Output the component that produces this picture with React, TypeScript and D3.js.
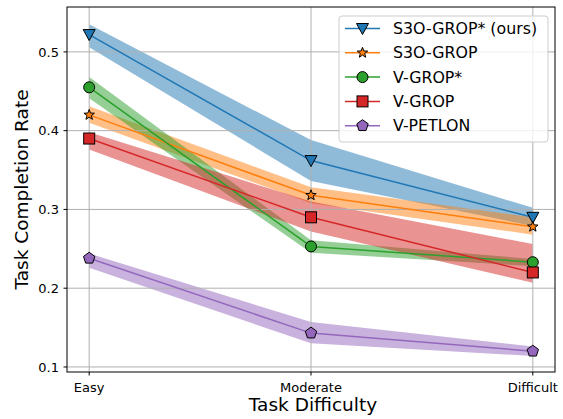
import React from "react";
import * as d3 from "d3";

const categories = ["Easy", "Moderate", "Difficult"];
const seriesNames = ["S3O-GROP* (ours)", "S3O-GROP", "V-GROP*", "V-GROP", "V-PETLON"];
const colors = ["#1f77b4", "#ff7f0e", "#2ca02c", "#d62728", "#9467bd"];
const markers = ["triangleDown", "star", "circle", "square", "pentagon"];

const meanS3OStar = [0.522, 0.362, 0.29];
const lowS3OStar = [0.506, 0.336, 0.279];
const highS3OStar = [0.535, 0.388, 0.302];

const meanS3O = [0.42, 0.318, 0.278];
const lowS3O = [0.41, 0.308, 0.268];
const highS3O = [0.431, 0.328, 0.29];

const meanVStar = [0.455, 0.253, 0.233];
const lowVStar = [0.441, 0.245, 0.228];
const highVStar = [0.468, 0.261, 0.237];

const meanV = [0.39, 0.29, 0.22];
const lowV = [0.376, 0.272, 0.207];
const highV = [0.398, 0.31, 0.256];

const meanPet = [0.238, 0.143, 0.12];
const lowPet = [0.226, 0.13, 0.114];
const highPet = [0.244, 0.157, 0.126];

const yTicks = [0.1, 0.2, 0.3, 0.4, 0.5];

const series = [
  { mean: meanS3OStar, low: lowS3OStar, high: highS3OStar },
  { mean: meanS3O, low: lowS3O, high: highS3O },
  { mean: meanVStar, low: lowVStar, high: highVStar },
  { mean: meanV, low: lowV, high: highV },
  { mean: meanPet, low: lowPet, high: highPet },
];

const W = 563, H = 419;
const left = 67, right = 555, top = 7, bottom = 372;
const font = "DejaVu Sans";

function Marker({ kind, x, y, color }: { kind: string; x: number; y: number; color: string }) {
  const common = { fill: color, stroke: "#000", strokeWidth: 1 };
  if (kind === "circle") return <circle cx={x} cy={y} r={5.5} {...common} />;
  if (kind === "square") return <rect x={x - 5.5} y={y - 5.5} width={11} height={11} {...common} />;
  if (kind === "triangleDown") {
    const pts = [[x - 6, y - 5], [x + 6, y - 5], [x, y + 6]];
    return <polygon points={pts.map(p => p.join(",")).join(" ")} {...common} />;
  }
  if (kind === "star") {
    const pts: number[][] = [];
    for (let i = 0; i < 10; i++) {
      const r = i % 2 === 0 ? 5.5 : 2.3;
      const a = -Math.PI / 2 + (i * Math.PI) / 5;
      pts.push([x + r * Math.cos(a), y + r * Math.sin(a)]);
    }
    return <polygon points={pts.map(p => p.join(",")).join(" ")} {...common} />;
  }
  const pts: number[][] = [];
  for (let i = 0; i < 5; i++) {
    const a = -Math.PI / 2 + (i * 2 * Math.PI) / 5;
    pts.push([x + 6 * Math.cos(a), y + 6 * Math.sin(a)]);
  }
  return <polygon points={pts.map(p => p.join(",")).join(" ")} {...common} />;
}

export default function App() {
  const x = d3.scaleLinear().domain([-0.1, 2.1]).range([left, right]);
  const y = d3.scaleLinear().domain([0.0936, 0.557]).range([bottom, top]);

  const area = d3.area<number>()
    .x((_, i) => x(i));
  const line = d3.line<number>().x((_, i) => x(i)).y(d => y(d));

  const legX = 339, legY = 16, legW = 209, legH = 126;

  return (
    <svg width={W} height={H} style={{ position: "absolute", left: 0, top: 0 }} fontFamily={font}>
      <rect width={W} height={H} fill="#fff" />
      {series.map((s, k) => (
        <path key={"b" + k}
          d={area.y0((_, i) => y(s.low[i])).y1((_, i) => y(s.high[i]))(s.mean) || ""}
          fill={colors[k]} fillOpacity={0.5} stroke="none" />
      ))}
      {yTicks.map(t => (
        <line key={"gy" + t} x1={left} x2={right} y1={y(t)} y2={y(t)} stroke="#b0b0b0" strokeWidth={1} />
      ))}
      {categories.map((c, i) => (
        <line key={"gx" + c} x1={x(i)} x2={x(i)} y1={top} y2={bottom} stroke="#b0b0b0" strokeWidth={1} />
      ))}
      {series.map((s, k) => (
        <path key={"l" + k} d={line(s.mean) || ""} fill="none" stroke={colors[k]} strokeWidth={1.5} />
      ))}
      {series.map((s, k) => s.mean.map((v, i) => (
        <Marker key={"m" + k + i} kind={markers[k]} x={x(i)} y={y(v)} color={colors[k]} />
      )))}
      <rect x={left} y={top} width={right - left} height={bottom - top} fill="none" stroke="#000" strokeWidth={1} />
      {yTicks.map(t => (
        <g key={"ty" + t}>
          <line x1={left - 3.5} x2={left} y1={y(t)} y2={y(t)} stroke="#000" />
          <text x={left - 8} y={y(t)} dy="0.36em" textAnchor="end" fontSize={13}>{t.toFixed(1)}</text>
        </g>
      ))}
      {categories.map((c, i) => (
        <g key={"tx" + c}>
          <line x1={x(i)} x2={x(i)} y1={bottom} y2={bottom + 3.5} stroke="#000" />
          <text x={x(i)} y={bottom + 20} textAnchor="middle" fontSize={13}>{c}</text>
        </g>
      ))}
      <text x={313} y={411} textAnchor="middle" fontSize={18.5}>Task Difficulty</text>
      <text transform={`translate(28,${(top + bottom) / 2}) rotate(-90)`} textAnchor="middle" fontSize={18.5}>Task Completion Rate</text>
      <rect x={legX} y={legY} width={legW} height={legH} rx={3} fill="#fff" fillOpacity={0.8} stroke="#ccc" />
      {seriesNames.map((n, k) => {
        const ly = legY + 12.5 + k * 24.3;
        return (
          <g key={"lg" + k}>
            <line x1={345} x2={380} y1={ly} y2={ly} stroke={colors[k]} strokeWidth={1.5} />
            <Marker kind={markers[k]} x={362.5} y={ly} color={colors[k]} />
            <text x={393} y={ly} dy="0.36em" fontSize={15.8}>{n}</text>
          </g>
        );
      })}
    </svg>
  );
}
